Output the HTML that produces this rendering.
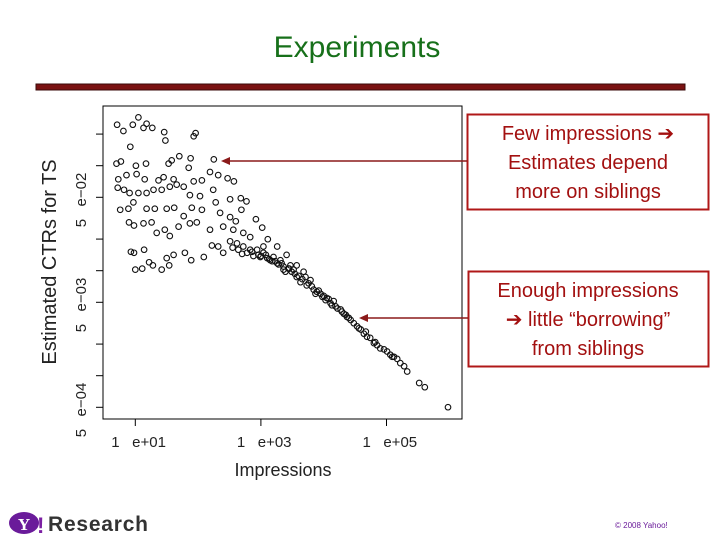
<!DOCTYPE html>
<html><head><meta charset="utf-8"><style>
body{margin:0;background:#fff;}
svg{display:block;font-family:"Liberation Sans",sans-serif;}
</style></head><body>
<svg id="chart" width="720" height="540" viewBox="0 0 720 540">
<text x="357" y="57" text-anchor="middle" font-size="30" fill="#17701a">Experiments</text>
<rect x="36" y="84" width="649" height="6" fill="#7a1212" stroke="#3a0a0a" stroke-width="1"/>
<rect x="103" y="106" width="359" height="313" fill="none" stroke="#000" stroke-width="1"/>
<g id="axes"></g>
<g id="points"></g>
<text transform="translate(56,262) rotate(-90)" text-anchor="middle" font-size="20" fill="#222">Estimated CTRs for TS</text>
<text x="283" y="476" text-anchor="middle" font-size="18" fill="#222">Impressions</text>
<g>
<rect x="467.5" y="114.5" width="241" height="95" fill="#fff" stroke="#b01818" stroke-width="2"/>
<text font-size="20" fill="#a31010" text-anchor="middle">
<tspan x="588" y="140">Few impressions ➔</tspan><tspan x="588" y="169">Estimates depend</tspan><tspan x="588" y="198">more on siblings</tspan></text>
<line x1="467" y1="161" x2="228" y2="161" stroke="#8b1a1a" stroke-width="1.5"/>
<polygon points="221,161 230,157 230,165" fill="#8b1a1a"/>
</g>
<g>
<rect x="468.5" y="271.5" width="240" height="95" fill="#fff" stroke="#b01818" stroke-width="2"/>
<text font-size="20" fill="#a31010" text-anchor="middle">
<tspan x="588" y="297">Enough impressions</tspan><tspan x="588" y="326">➔ little “borrowing”</tspan><tspan x="588" y="355">from siblings</tspan></text>
<line x1="468" y1="318" x2="366" y2="318" stroke="#8b1a1a" stroke-width="1.5"/>
<polygon points="359,318 368,314 368,322" fill="#8b1a1a"/>
</g>
<g>
<ellipse cx="24" cy="523" rx="15" ry="11" fill="#6a1b9a"/>
<text x="24" y="530" text-anchor="middle" font-size="17" font-family="Liberation Serif,serif" font-weight="bold" fill="#fff">Y</text>
<text x="37" y="533" font-size="22" font-weight="bold" fill="#7b1fa2">!</text>
<text x="48" y="531" font-size="21" font-weight="bold" fill="#333" textLength="100">Research</text>
</g>
<text x="615" y="528" font-size="8" fill="#6a1b9a">© 2008 Yahoo!</text>
</svg>
<script>
// log10(impressions) and log10(estimated CTR)
const logImpr=[0.71,0.81,0.96,1.05,1.13,1.18,1.27,1.46,1.48,1.96,1.93,0.92,0.70,0.77,1.01,1.17,1.53,1.58,1.70,1.88,1.85,2.25,0.73,0.86,1.02,1.15,1.37,1.45,1.61,1.77,1.93,2.06,2.19,2.32,2.47,2.57,0.72,0.82,0.91,1.05,1.18,1.29,1.42,1.55,1.66,1.87,2.03,2.24,2.51,2.68,2.77,0.76,0.89,0.97,1.18,1.31,1.50,1.62,1.77,1.90,2.06,2.28,2.35,2.51,2.60,2.69,2.92,3.02,0.90,0.98,1.13,1.26,1.34,1.47,1.55,1.69,1.87,1.98,2.19,2.40,2.56,2.72,2.83,0.93,0.98,1.14,1.22,1.28,1.42,1.00,1.11,1.54,1.50,1.61,1.79,1.89,2.09,2.22,2.32,2.40,2.51,2.62,2.72,2.83,2.94,3.11,3.04,3.26,3.41,2.99,3.15,3.26,3.36,3.47,3.57,3.68,3.79,3.73,3.84,3.95,4.05,4.16,4.27,4.37,4.48,4.59,4.69,4.80,4.90,5.01,5.12,5.22,5.33,5.52,5.61,5.98,3.04,3.10,3.20,3.31,3.36,3.52,3.57,3.63,3.71,3.81,3.89,4.00,4.11,4.19,4.32,4.43,4.53,4.64,4.74,4.85,4.96,5.06,5.17,5.28,5.09,4.82,4.56,4.29,4.03,3.76,3.49,3.23,2.96,2.78,2.64,3.39,3.87,4.13,4.40,4.67,2.70,2.86,3.00,3.08,3.18,3.28,3.33,3.44,3.54,3.60,3.66,3.92,3.98,4.08,4.22,4.35,2.55,2.88,3.13,3.45];
const logCtr=[-0.61,-0.67,-0.61,-0.54,-0.64,-0.60,-0.64,-0.68,-0.76,-0.69,-0.72,-0.82,-0.98,-0.96,-1.00,-0.98,-0.98,-0.95,-0.91,-0.93,-1.02,-0.94,-1.13,-1.09,-1.08,-1.13,-1.14,-1.11,-1.13,-1.20,-1.15,-1.14,-1.06,-1.09,-1.12,-1.15,-1.21,-1.23,-1.26,-1.26,-1.26,-1.23,-1.23,-1.20,-1.18,-1.28,-1.29,-1.23,-1.32,-1.31,-1.34,-1.42,-1.41,-1.35,-1.41,-1.41,-1.41,-1.40,-1.48,-1.40,-1.42,-1.35,-1.45,-1.49,-1.53,-1.42,-1.51,-1.59,-1.54,-1.57,-1.55,-1.54,-1.64,-1.61,-1.67,-1.58,-1.55,-1.54,-1.61,-1.58,-1.61,-1.64,-1.68,-1.82,-1.83,-1.80,-1.92,-1.95,-1.99,-1.99,-1.98,-1.95,-1.88,-1.85,-1.83,-1.90,-1.87,-1.76,-1.77,-1.83,-1.72,-1.74,-1.77,-1.80,-1.80,-1.70,-1.77,-1.77,-1.85,-1.87,-1.90,-1.93,-1.96,-1.95,-1.95,-2.01,-2.09,-2.14,-2.18,-2.22,-2.26,-2.29,-2.37,-2.44,-2.50,-2.56,-2.63,-2.69,-2.74,-2.77,-2.82,-2.88,-2.96,-3.07,-3.11,-3.30,-1.83,-1.88,-1.87,-1.90,-1.99,-1.99,-2.06,-2.11,-2.06,-2.15,-2.20,-2.24,-2.31,-2.34,-2.41,-2.47,-2.53,-2.60,-2.64,-2.71,-2.75,-2.80,-2.84,-2.91,-2.82,-2.68,-2.55,-2.39,-2.28,-2.12,-2.01,-1.91,-1.85,-1.83,-1.80,-2.01,-2.22,-2.33,-2.45,-2.58,-1.84,-1.82,-1.86,-1.85,-1.91,-1.94,-1.93,-1.98,-2.03,-2.05,-2.08,-2.19,-2.25,-2.27,-2.36,-2.42,-1.78,-1.86,-1.89,-1.98];
const xTickExp=[1,3,5];
const xTickLabels=["1   e+01","1   e+03","1   e+05"];
const yTickVals=[0.2,0.1,0.05,0.02,0.01,0.005,0.002,0.001,0.0005];
const yLabelVals=[0.05,0.005,0.0005];
const yLabelText=["5   e−02","5   e−03","5   e−04"];

const NS="http://www.w3.org/2000/svg";
function xs(lg){return 135.3+(lg-1)*62.8;}
function ys(lg){return 197.3-(lg-Math.log10(0.05))*105;}
function mk(tag,attrs,parent){const e=document.createElementNS(NS,tag);for(const k in attrs)e.setAttribute(k,attrs[k]);parent.appendChild(e);return e;}
const axes=document.getElementById('axes');
xTickExp.forEach((e,i)=>{
  const x=xs(e);
  const t=mk('line',{x1:x,x2:x,y1:419,y2:426,stroke:'#000'},axes);
  
  
  const l=mk('text',{x:x-24,y:447,'font-size':15,fill:'#222'},axes);
  
  
  l.style.whiteSpace='pre';
  l.textContent=xTickLabels[i];
});
yTickVals.forEach(v=>{
  const y=ys(Math.log10(v));
  const t=mk('line',{x1:96,x2:103,y1:y,y2:y,stroke:'#000'},axes);
  
  
});
yLabelVals.forEach((v,i)=>{
  const y=ys(Math.log10(v));
  const l=mk('text',{transform:`translate(86,${y+30}) rotate(-90)`,'font-size':15,fill:'#222'},axes);
  
  
  l.style.whiteSpace='pre';
  l.textContent=yLabelText[i];
});
const pts=document.getElementById('points');
logImpr.forEach((li,i)=>{
  const c=mk('circle',{cx:xs(li).toFixed(1),cy:ys(logCtr[i]).toFixed(1),r:2.8,fill:'none',stroke:'#111','stroke-width':1.1},pts);
  
  
});
</script>
</body></html>
